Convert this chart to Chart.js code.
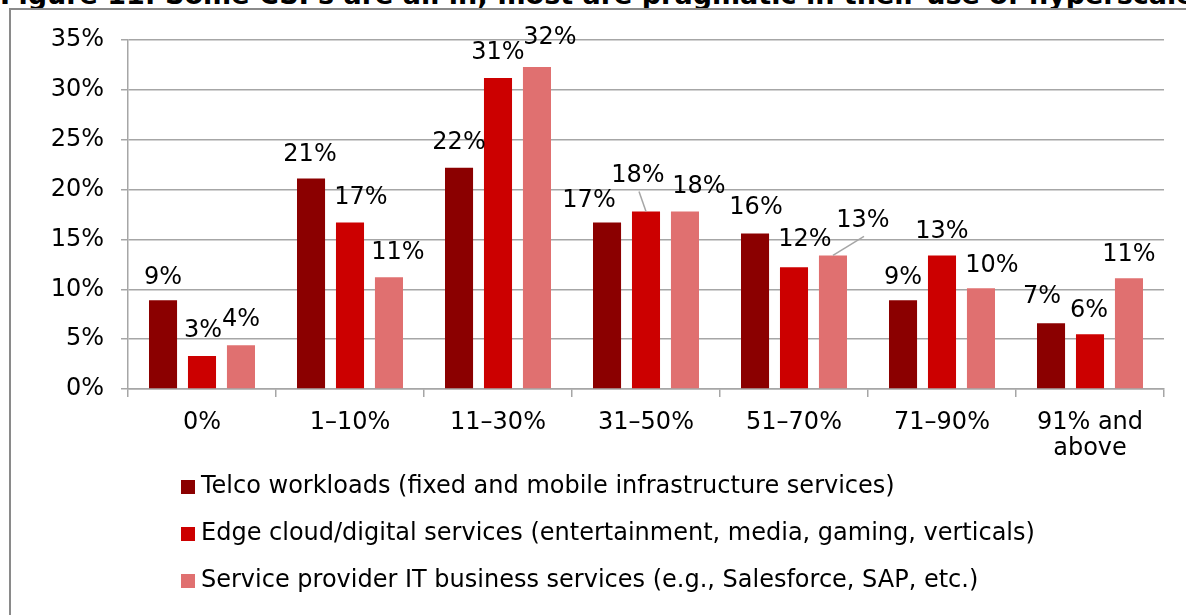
<!DOCTYPE html>
<html><head><meta charset="utf-8">
<script src="https://cdn.jsdelivr.net/npm/chart.js@4.4.1/dist/chart.umd.min.js"></script>
<style>
html,body{margin:0;padding:0;background:#fff;overflow:hidden;width:1186px;height:615px}
#title{position:absolute;left:0;top:-19px;font:bold 27px "DejaVu Sans";white-space:nowrap;color:#000;line-height:27px}
#frame{position:absolute;left:9px;top:8px;width:1300px;height:700px;border-left:2px solid #8a8a8a;border-top:2px solid #8a8a8a}
#wrap{position:absolute;left:0;top:0;width:1186px;height:615px}
</style></head><body>
<div id="title">Figure 11: Some CSPs are all in; most are pragmatic in their use of hyperscalers</div>
<div id="frame"></div>
<div id="wrap"><canvas id="c" width="1186" height="615"></canvas></div>
<script>
const categories = ['0%', '1–10%', '11–30%', '31–50%', '51–70%', '71–90%', ['91% and', 'above']];
const seriesNames = [
  'Telco workloads (fixed and mobile infrastructure services)',
  'Edge cloud/digital services (entertainment, media, gaming, verticals)',
  'Service provider IT business services (e.g., Salesforce, SAP, etc.)'
];
const telcoWorkloads = [8.9, 21.1, 22.2, 16.7, 15.6, 8.9, 6.6];
const edgeCloud = [3.3, 16.7, 31.2, 17.8, 12.2, 13.4, 5.5];
const itBusiness = [4.4, 11.2, 32.3, 17.8, 13.4, 10.1, 11.1];
const yTickValues = [0, 5, 10, 15, 20, 25, 30, 35];

// label nudges (dx, dy) relative to bar top-centre, per series, per category
const labelNudges = [
  [[0,-22],[-1,-24],[0,-25],[-18,-22],[1,-26],[0,-22],[-9,-26]],
  [[1,-25],[11,-25],[0,-25],[-8,-36],[11,-28],[0,-24],[-1,-23]],
  [[0,-25],[9,-25],[13,-29],[14,-25],[30,-35],[11,-23],[0,-24]]
];
const leaderLines = [[1,3],[2,4]]; // [series, category]

const colors = ['#8b0000', '#cc0000', '#e07070'];
const FONT = '"DejaVu Sans", Verdana, sans-serif';
const gridColor = '#a6a6a6';

const labelPlugin = {
  id: 'barLabels',
  afterDatasetsDraw(chart) {
    const ctx = chart.ctx;
    ctx.save();
    ctx.font = '24px ' + FONT;
    ctx.fillStyle = '#000';
    ctx.textAlign = 'center';
    ctx.textBaseline = 'middle';
    chart.data.datasets.forEach((ds, i) => {
      const meta = chart.getDatasetMeta(i);
      meta.data.forEach((bar, j) => {
        const [dx, dy] = labelNudges[i][j];
        const lx = bar.x + dx, ly = bar.y + dy;
        ctx.fillText(Math.round(ds.data[j]) + '%', lx, ly);
        if (leaderLines.some(([a, b]) => a === i && b === j)) {
          ctx.strokeStyle = gridColor;
          ctx.lineWidth = 1.5;
          ctx.beginPath();
          ctx.moveTo(lx + 1, ly + 16);
          ctx.lineTo(bar.x, bar.y);
          ctx.stroke();
        }
      });
    });
    ctx.restore();
  }
};

const legendPlugin = {
  id: 'rowLegend',
  afterDraw(chart) {
    const ctx = chart.ctx;
    const a = chart.chartArea;
    ctx.save();
    ctx.font = '24px ' + FONT;
    ctx.textAlign = 'left';
    ctx.textBaseline = 'middle';
    chart.data.datasets.forEach((ds, i) => {
      const y = a.bottom + 98 + 47 * i;
      const x = a.left + 53;
      ctx.fillStyle = ds.backgroundColor;
      ctx.fillRect(x, y - 7, 14, 14);
      ctx.fillStyle = '#000';
      ctx.fillText(ds.label, x + 20, y);
    });
    ctx.restore();
  }
};

new Chart(document.getElementById('c'), {
  type: 'bar',
  data: {
    labels: categories,
    datasets: [
      { label: seriesNames[0], data: telcoWorkloads, backgroundColor: colors[0] },
      { label: seriesNames[1], data: edgeCloud, backgroundColor: colors[1] },
      { label: seriesNames[2], data: itBusiness, backgroundColor: colors[2] }
    ]
  },
  options: {
    responsive: false,
    animation: false,
    categoryPercentage: 0.79,
    barPercentage: 0.72,
    layout: { padding: { left: 0, right: 22, top: 40, bottom: 146 } },
    plugins: { legend: { display: false }, tooltip: { enabled: false } },
    scales: {
      x: {
        grid: { offset: true, drawOnChartArea: false, drawTicks: true, tickLength: 8, color: gridColor, lineWidth: 1.5 },
        border: { color: gridColor, width: 1.5 },
        ticks: { font: { family: FONT, size: 24, lineHeight: 1.08 }, color: '#000', padding: 13, maxRotation: 0, autoSkip: false },
        afterFit(s) { s.height = 80; }
      },
      y: {
        min: 0, max: 35,
        afterBuildTicks(s) { s.ticks = yTickValues.map(v => ({ value: v })); },
        ticks: { font: { family: FONT, size: 24 }, color: '#000', padding: 17, callback: v => v + '%' },
        grid: { color: gridColor, lineWidth: 1.5, tickLength: 7 },
        border: { color: gridColor, width: 1.5 },
        afterFit(s) { s.width = 128; }
      }
    }
  },
  plugins: [labelPlugin, legendPlugin]
});
</script>
</body></html>
